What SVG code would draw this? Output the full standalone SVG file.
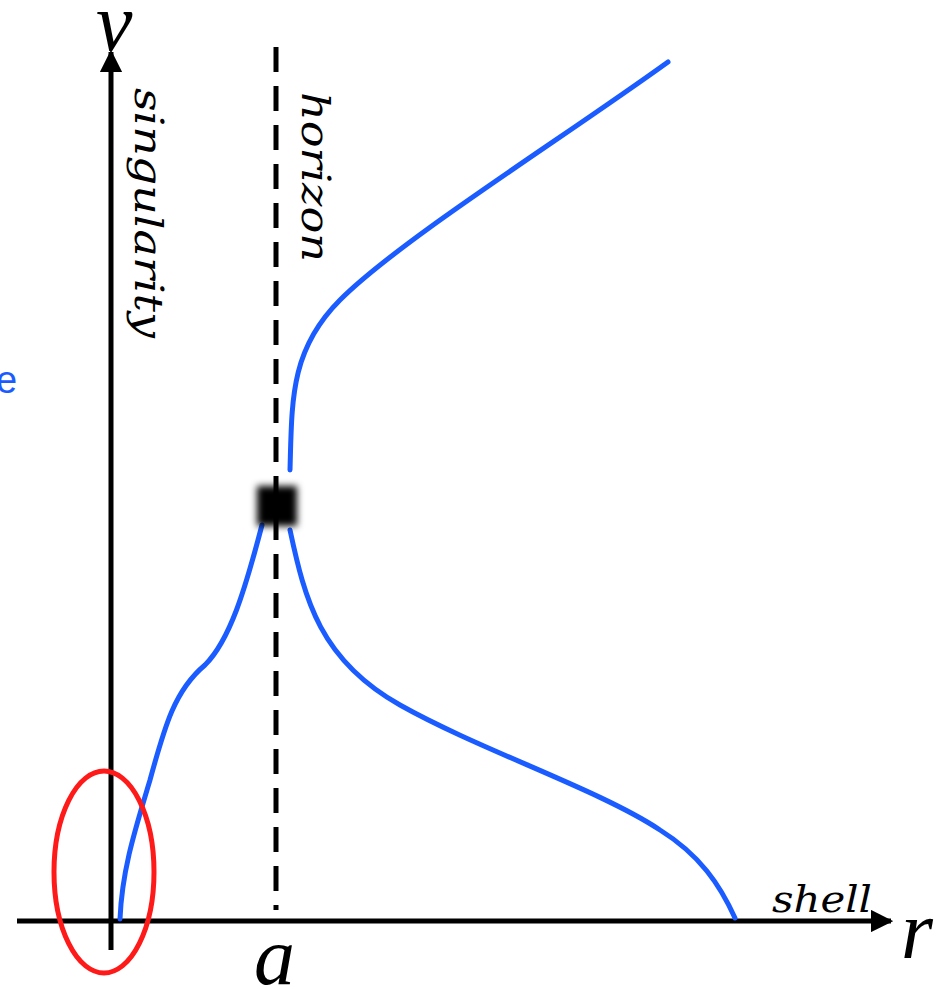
<svg xmlns="http://www.w3.org/2000/svg" width="941" height="989" viewBox="0 0 941 989">
<style>
.ax{stroke:#000;stroke-width:5;fill:none}
.cv{stroke:#1a5cff;stroke-width:5;fill:none;stroke-linecap:round}
.it{font-family:"DejaVu Serif","Liberation Serif",serif;font-style:italic;fill:#000}
.mt{font-family:"Liberation Serif",serif;font-style:italic;fill:#000}
</style>
<defs>
<marker id="ah" viewBox="0 0 10 10" refX="9" refY="5" markerWidth="4.5" markerHeight="4.5" orient="auto" markerUnits="strokeWidth">
<path d="M0,0 L10,5 L0,10 z" fill="#000"/>
</marker>
<filter id="blur" x="-50%" y="-50%" width="200%" height="200%">
<feGaussianBlur stdDeviation="3.5"/>
</filter>
</defs>
<g id="connectors">
<line class="ax" x1="111" y1="950" x2="111" y2="52" marker-end="url(#ah)"/>
<line class="ax" x1="17" y1="921" x2="891" y2="921" marker-end="url(#ah)"/>
<line class="ax" x1="276" y1="47" x2="276" y2="910" stroke-dasharray="25 14"/>
<path class="cv" d="M120,919 C122,870 135,830 150,780 C165,725 175,690 205,665 C230,640 245,590 262,525"/>
<path class="cv" d="M290,470 C292,400 290,350 340,300 C400,240 560,140 668,62"/>
<path class="cv" d="M290,530 C305,600 320,660 400,705 C480,750 600,790 660,830 C700,855 720,885 735,918"/>
</g>
<g id="ellipse">
<ellipse cx="104" cy="872" rx="50" ry="101" fill="none" stroke="#ff1a1a" stroke-width="5"/>
</g>
<g id="point">
<rect x="257" y="486" width="40" height="40" fill="#000" filter="url(#blur)"/>
</g>
<g id="labels">
<text class="mt" x="96" y="50" font-size="82">v</text>
<text class="mt" x="254" y="984" font-size="82">a</text>
<text class="mt" x="901" y="958" font-size="82">r</text>
<text class="it" x="772" y="912" font-size="38" textLength="100" lengthAdjust="spacingAndGlyphs">shell</text>
<text class="it" font-size="40" transform="translate(135,88) rotate(90)" textLength="250" lengthAdjust="spacingAndGlyphs">singularity</text>
<text class="it" font-size="40" transform="translate(302,92) rotate(90)" textLength="170" lengthAdjust="spacingAndGlyphs">horizon</text>
<text x="-4" y="393" font-family="Liberation Sans,sans-serif" font-size="38" fill="#1a5cff">e</text>
</g>
</svg>
